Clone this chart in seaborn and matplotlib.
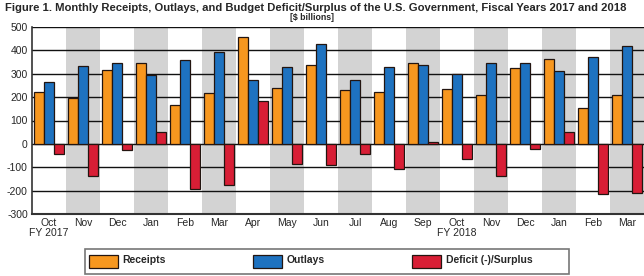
import pandas as pd
import numpy as np
import matplotlib.pyplot as plt
import seaborn as sns
from matplotlib.patches import Patch, Rectangle

# Monthly values, $ billions, FY2017 Oct .. FY2018 Mar
months = ['Oct\nFY 2017', 'Nov', 'Dec', 'Jan', 'Feb', 'Mar', 'Apr', 'May', 'Jun',
          'Jul', 'Aug', 'Sep', 'Oct\nFY 2018', 'Nov', 'Dec', 'Jan', 'Feb', 'Mar']
receipts = [221, 196, 317, 344, 168, 217, 456, 240, 339, 232, 223, 344, 235, 208, 324, 361, 155, 210]
outlays = [266, 333, 344, 293, 360, 393, 274, 329, 429, 275, 331, 336, 298, 347, 347, 311, 370, 419]
deficit = [-45, -137, -27, 51, -192, -176, 182, -88, -90, -43, -108, 8, -63, -139, -23, 49, -215, -209]

series = ['Receipts', 'Outlays', 'Deficit (-)/Surplus']
colors = ['#F7971F', '#1E72C0', '#D81E35']

# long-form table for seaborn
df = pd.DataFrame({
    'Month': list(range(len(months))) * 3,
    'Value': receipts + outlays + deficit,
    'Series': [series[0]] * len(months) + [series[1]] * len(months) + [series[2]] * len(months),
})

sns.set_style('white')
plt.rcParams['font.family'] = ['Liberation Sans', 'DejaVu Sans']

fig = plt.figure(figsize=(6.44, 2.76), dpi=100)
ax = fig.add_axes([32 / 644, 62 / 276, 1 - 32 / 644, 187 / 276])

# alternating gray month bands
for i in range(1, len(months), 2):
    ax.axvspan(i - 0.5, i + 0.5, color='#D3D3D3', lw=0, zorder=0)

# horizontal grid lines
for y in range(-200, 501, 100):
    ax.axhline(y, color='#111111', lw=1.0, zorder=1)

sns.barplot(data=df, x='Month', y='Value', hue='Series', hue_order=series,
            palette=colors, saturation=1, width=0.9, edgecolor='#231510', linewidth=0.9,
            legend=False, ax=ax, zorder=3)

ax.set_xlim(-0.5, len(months) - 0.5)
ax.set_ylim(-300, 500)
ax.set_yticks(range(-300, 501, 100))
ax.set_yticklabels([str(v) for v in range(-300, 501, 100)], fontsize=7.5)
ax.set_xticks(range(len(months)))
ax.set_xticklabels(months, fontsize=7.5, linespacing=1.0)
ax.tick_params(axis='both', length=0, pad=3)
ax.set_xlabel('')
ax.set_ylabel('')

for s in ['top', 'right']:
    ax.spines[s].set_visible(False)
ax.spines['left'].set_color('#333333')
ax.spines['left'].set_linewidth(1.2)
ax.spines['bottom'].set_color('#333333')
ax.spines['bottom'].set_linewidth(1.5)

fig.text(0.49, 0.971, 'Figure 1. Monthly Receipts, Outlays, and Budget Deficit/Surplus of the U.S. '
         'Government, Fiscal Years 2017 and 2018', ha='center', va='center',
         fontsize=8.1, fontweight='bold')
fig.text(0.485, 0.937, '[$ billions]', ha='center', va='center', fontsize=6.3, fontweight='bold')

# legend frame drawn separately so it spans like the reference
fig.patches.append(Rectangle((85 / 644, 2 / 276), 484 / 644, 25 / 276, transform=fig.transFigure,
                             facecolor='white', edgecolor='#777777', lw=1.2, zorder=0))
handles = [Patch(facecolor=c, edgecolor='#231510', lw=0.9) for c in colors]
leg = fig.legend(handles, series, loc='center left', ncol=3,
                 bbox_to_anchor=(87 / 644, 14.5 / 276),
                 prop={'size': 7.5, 'weight': 'bold'}, frameon=False,
                 handlelength=2.8, handleheight=1.5, handletextpad=0.4,
                 columnspacing=8.4, borderaxespad=0, borderpad=0.2)
for t in leg.get_texts():
    t.set_va('bottom')

fig.savefig('out.png', dpi=100)
